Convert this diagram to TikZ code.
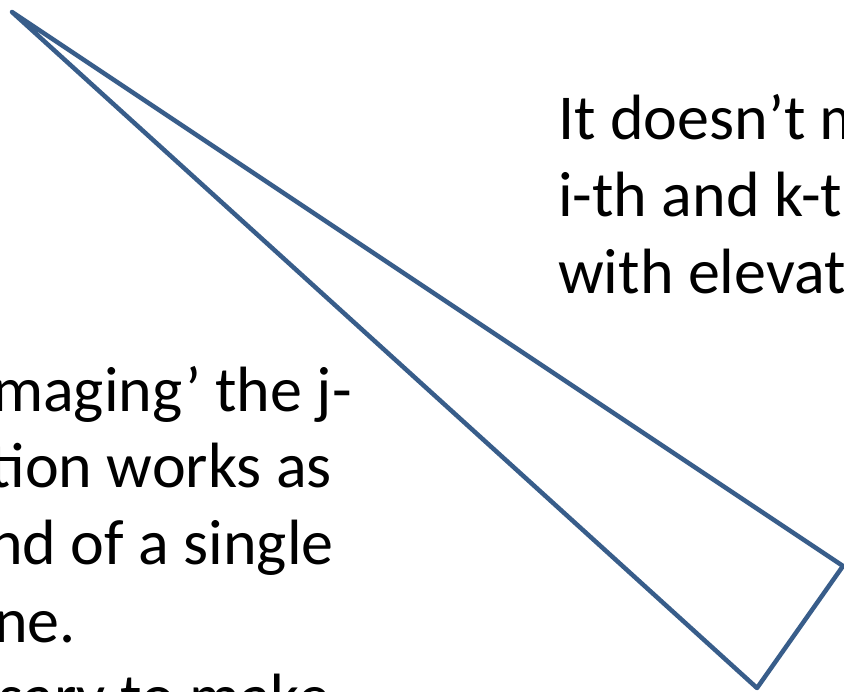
\documentclass[tikz,border=0pt]{standalone}
\usepackage{fontspec}
\setmainfont{Carlito}
\begin{document}
\begin{tikzpicture}[x=1pt,y=-1pt,
  txt/.style={inner sep=0pt,font=\fontsize{64}{77}\selectfont},
  tri/.style={draw=edgeblue,line width=4.5pt,line join=round,line cap=round}]
\definecolor{edgeblue}{HTML}{385D8A}
\useasboundingbox (0,0) rectangle (844,692);
\clip (0,0) rectangle (844,692);
\fill[white] (0,0) rectangle (844,692);
\coordinate (A) at (12,12);
\coordinate (B) at (843,566);
\coordinate (C) at (757,688);
\draw[tri] (A) -- (B) -- (C) -- cycle;
\node[txt,anchor=base west] (r1) at (558,140) {It doesn’t m};
\node[txt,anchor=base west] (r2) at (558,217) {i-th and k-t};
\node[txt,anchor=base west] (r3) at (558,294) {with elevat};
\node[txt,anchor=base east] (l1) at (352,412) {maging’ the j-};
\node[txt,anchor=base east] (l2) at (332,488) {tion works as};
\node[txt,anchor=base east] (l3) at (334,565) {nd of a single};
\node[txt,anchor=base east] (l4) at (76,642) {ne.};
\node[txt,anchor=base east] (l5) at (330,718) {ssary to make};
\end{tikzpicture}
\end{document}
